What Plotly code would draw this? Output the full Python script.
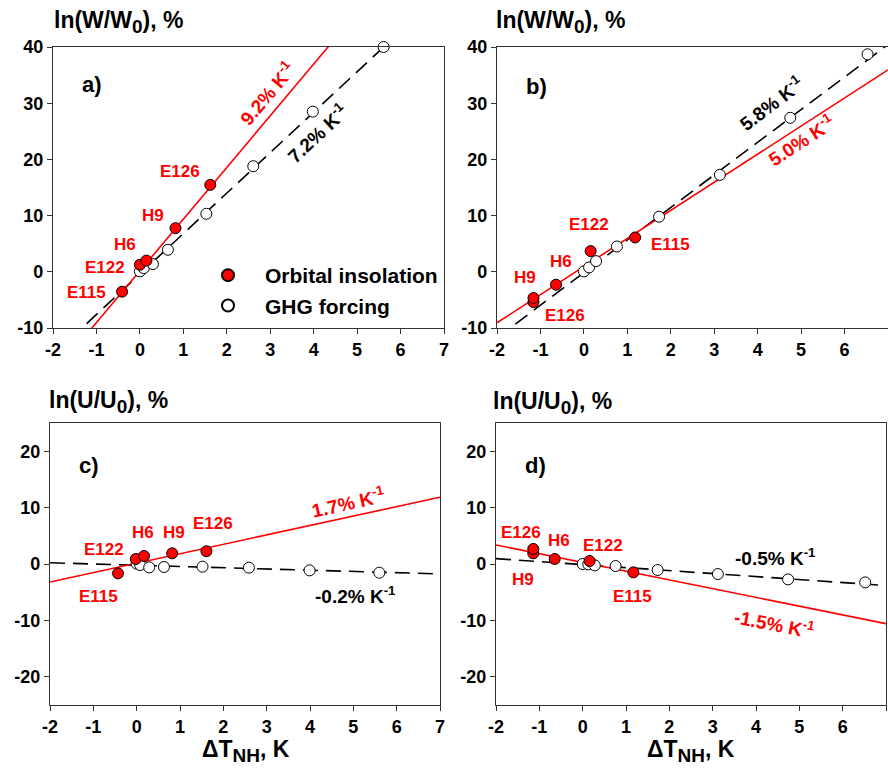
import plotly.graph_objects as go

# ---------------- data ----------------
# Panel a: ln(W/W0) vs dT_NH
a_orb_x = [-0.41, 0.0, 0.15, 0.82, 1.62]
a_orb_y = [-3.54, 1.26, 2.0, 7.77, 15.47]
a_ghg_x = [0.0, 0.09, 0.30, 0.645, 1.53, 2.61, 3.98, 5.61]
a_ghg_y = [0.07, 0.66, 1.37, 3.92, 10.32, 18.79, 28.5, 40.0]

# Panel b
b_orb_x = [-1.16, -1.16, -0.64, 0.155, 1.18]
b_orb_y = [-5.4, -4.67, -2.3, 3.68, 6.11]
b_ghg_x = [0.0, 0.12, 0.28, 0.76, 1.73, 3.13, 4.75, 6.53]
b_ghg_y = [0.07, 0.78, 1.9, 4.5, 9.8, 17.25, 27.4, 38.7]

# Panel c: ln(U/U0)
c_orb_x = [-0.43, -0.02, 0.17, 0.82, 1.61]
c_orb_y = [-1.66, 0.89, 1.42, 1.9, 2.26]
c_ghg_x = [0.0, 0.08, 0.29, 0.63, 1.52, 2.59, 3.99, 5.6]
c_ghg_y = [0.06, -0.18, -0.6, -0.53, -0.47, -0.65, -1.13, -1.54]

# Panel d
d_orb_x = [-1.14, -1.14, -0.645, 0.16, 1.17]
d_orb_y = [1.9, 2.67, 0.89, 0.53, -1.48]
d_ghg_x = [0.0, 0.13, 0.28, 0.76, 1.73, 3.12, 4.74, 6.52]
d_ghg_y = [0.0, -0.06, -0.24, -0.36, -1.07, -1.78, -2.73, -3.26]

# regression lines (slope, intercept) per panel: orbital, GHG
orb_slope = [9.2, 5.0, 1.67, -1.55]
orb_icept = [0.16, 0.93, 0.15, 0.28]
ghg_slope = [7.2, 5.8, -0.22, -0.53]
ghg_icept = [-0.4, -0.15, -0.22, -0.11]

# labels of orbital runs
a_lab = ["E115", "E122", "H6", "H9", "E126"]
a_lab_x = [-1.22, -0.80, -0.34, 0.30, 0.92]
a_lab_y = [-3.77, 0.68, 4.77, 10.1, 17.76]
b_lab = ["E126", "H9", "H6", "E122", "E115"]
b_lab_x = [-0.43, -1.36, -0.53, 0.12, 2.0]
b_lab_y = [-7.7, -1.1, 1.92, 8.5, 4.77]
c_lab = ["E115", "E122", "H6", "H9", "E126"]
c_lab_x = [-0.87, -0.75, 0.15, 0.86, 1.76]
c_lab_y = [-5.85, 2.66, 5.5, 5.5, 7.1]
d_lab = ["H9", "E126", "H6", "E122", "E115"]
d_lab_x = [-1.38, -1.42, -0.55, 0.47, 1.14]
d_lab_y = [-2.66, 5.5, 4.1, 3.2, -5.85]

x_range = [-2, 7]
x_ticks = [-2, -1, 0, 1, 2, 3, 4, 5, 6, 7]
x_ticktext = ["-2", "-1", "0", "1", "2", "3", "4", "5", "6", "7"]
w_range = [-10, 40]
w_ticks = [-10, 0, 10, 20, 30, 40]
w_ticktext = ["-10", "0", "10", "20", "30", "40"]
u_range = [-25, 25]
u_ticks = [-20, -10, 0, 10, 20]
u_ticktext = ["-20", "-10", "0", "10", "20"]

RED = "#ff0000"
FONT = "Arial, Liberation Sans, sans-serif"

def f(size, color="black"):
    return dict(family=FONT, size=size, color=color, weight="bold")

fig = go.Figure()

panels = [
    ("x", "y", a_orb_x, a_orb_y, a_ghg_x, a_ghg_y, a_lab, a_lab_x, a_lab_y),
    ("x2", "y2", b_orb_x, b_orb_y, b_ghg_x, b_ghg_y, b_lab, b_lab_x, b_lab_y),
    ("x3", "y3", c_orb_x, c_orb_y, c_ghg_x, c_ghg_y, c_lab, c_lab_x, c_lab_y),
    ("x4", "y4", d_orb_x, d_orb_y, d_ghg_x, d_ghg_y, d_lab, d_lab_x, d_lab_y),
]

annotations = []
for i, (xa, ya, ox, oy, gx, gy, lab, lx, ly) in enumerate(panels):
    lx_line = [x_range[0], x_range[1]]
    fig.add_trace(go.Scatter(
        x=lx_line, y=[ghg_slope[i] * v + ghg_icept[i] for v in lx_line],
        mode="lines", line=dict(color="black", width=1.6, dash="15px,8px"),
        xaxis=xa, yaxis=ya, showlegend=False, hoverinfo="skip"))
    fig.add_trace(go.Scatter(
        x=lx_line, y=[orb_slope[i] * v + orb_icept[i] for v in lx_line],
        mode="lines", line=dict(color=RED, width=1.6),
        xaxis=xa, yaxis=ya, showlegend=False, hoverinfo="skip"))
    fig.add_trace(go.Scatter(
        x=gx, y=gy, mode="markers",
        marker=dict(size=11, color="white", line=dict(color="black", width=1)),
        xaxis=xa, yaxis=ya, name="GHG forcing", showlegend=(i == 0),
        legendrank=2, cliponaxis=False))
    fig.add_trace(go.Scatter(
        x=ox, y=oy, mode="markers",
        marker=dict(size=11, color=RED, line=dict(color="black", width=1)),
        xaxis=xa, yaxis=ya, name="Orbital insolation", showlegend=(i == 0),
        legendrank=1, cliponaxis=False))
    for t, xx, yy in zip(lab, lx, ly):
        annotations.append(dict(x=xx, y=yy, xref=xa, yref=ya, text=t, showarrow=False,
                                font=f(17, RED)))

# panel letters
for xa, ya, t, yy in [("x", "y", "a)", 33.4), ("x2", "y2", "b)", 32.9),
                      ("x3", "y3", "c)", 17.55), ("x4", "y4", "d)", 17.4)]:
    annotations.append(dict(x=-1.1, y=yy, xref=xa, yref=ya, text=t, showarrow=False,
                            font=f(22)))

# slope labels
slope_labels = [
    ("x", "y", "9.2% K<sup>-1</sup>", 2.93, 31.8, -50, RED),
    ("x", "y", "7.2% K<sup>-1</sup>", 4.08, 24.7, -43, "black"),
    ("x2", "y2", "5.8% K<sup>-1</sup>", 4.31, 30.0, -37, "black"),
    ("x2", "y2", "5.0% K<sup>-1</sup>", 5.0, 23.45, -33, RED),
    ("x3", "y3", "1.7% K<sup>-1</sup>", 4.88, 11.0, -12.5, RED),
    ("x3", "y3", "-0.2% K<sup>-1</sup>", 5.04, -5.5, 0, "black"),
    ("x4", "y4", "-0.5% K<sup>-1</sup>", 4.46, 1.24, 0, "black"),
    ("x4", "y4", "-1.5% K<sup>-1</sup>", 4.42, -10.5, 11, RED),
]
for xa, ya, t, xx, yy, ang, col in slope_labels:
    annotations.append(dict(x=xx, y=yy, xref=xa, yref=ya, text=t, showarrow=False,
                            textangle=ang, font=f(19, col)))

W = 888
H = 768
def px(x):
    return x / W
def py(y):
    return 1 - y / H

W_TITLE = 'ln(W/W<sub><span style="font-size:19px">0</span></sub>), %'
U_TITLE = 'ln(U/U<sub><span style="font-size:19px">0</span></sub>), %'
X_TITLE = 'ΔT<sub><span style="font-size:19px">NH</span></sub>, K'

for xp, yp, t in [(52, 22, W_TITLE), (494, 22, W_TITLE),
                  (47, 402, U_TITLE), (491, 403, U_TITLE)]:
    annotations.append(dict(x=px(xp), y=py(yp), xref="paper", yref="paper", text=t,
                            showarrow=False, xanchor="left", yanchor="middle",
                            font=f(23)))
for xp in [246, 691]:
    annotations.append(dict(x=px(xp), y=py(751), xref="paper", yref="paper",
                            text=X_TITLE, showarrow=False,
                            xanchor="center", yanchor="middle", font=f(23)))

axis_common = dict(showgrid=False, zeroline=False, showline=True, linecolor="#333333",
                   linewidth=1.2, mirror=True, ticks="outside", ticklen=5,
                   tickcolor="#333333", tickfont=f(18), automargin=False)

dom = {
    "a": ([53, 444], [47, 328]),
    "b": ([497, 888], [47, 328]),
    "c": ([50, 440], [423, 705]),
    "d": ([496, 886], [423, 705]),
}

def xd(p):
    return [px(p[0][0]), min(1.0, px(p[0][1]))]
def yd(p):
    return [py(p[1][1]), py(p[1][0])]

layout = dict(
    width=W, height=H, margin=dict(l=0, r=0, t=0, b=0, autoexpand=False),
    paper_bgcolor="white", plot_bgcolor="white",
    showlegend=True,
    legend=dict(x=px(191), y=py(255), xanchor="left", yanchor="top",
                bgcolor="rgba(0,0,0,0)", font=f(21), itemwidth=64,
                tracegroupgap=0, itemsizing="constant"),
    annotations=annotations,
)
for key, xa, ya, yr, yt, ytt in [("a", "xaxis", "yaxis", w_range, w_ticks, w_ticktext),
                                 ("b", "xaxis2", "yaxis2", w_range, w_ticks, w_ticktext),
                                 ("c", "xaxis3", "yaxis3", u_range, u_ticks, u_ticktext),
                                 ("d", "xaxis4", "yaxis4", u_range, u_ticks, u_ticktext)]:
    yname = "y" if ya == "yaxis" else "y" + ya[-1]
    xname = "x" if xa == "xaxis" else "x" + xa[-1]
    layout[xa] = dict(axis_common, domain=xd(dom[key]), range=x_range,
                      tickvals=x_ticks, ticktext=x_ticktext, anchor=yname)
    layout[ya] = dict(axis_common, domain=yd(dom[key]), range=yr,
                      tickvals=yt, ticktext=ytt, anchor=xname)

fig.update_layout(**layout)
# remove the default page margin so the 888x768 figure fills the window exactly
fig.write_html("out.html", config={"displayModeBar": False},
               post_script="document.body.style.margin='0';document.body.style.overflow='hidden';")
